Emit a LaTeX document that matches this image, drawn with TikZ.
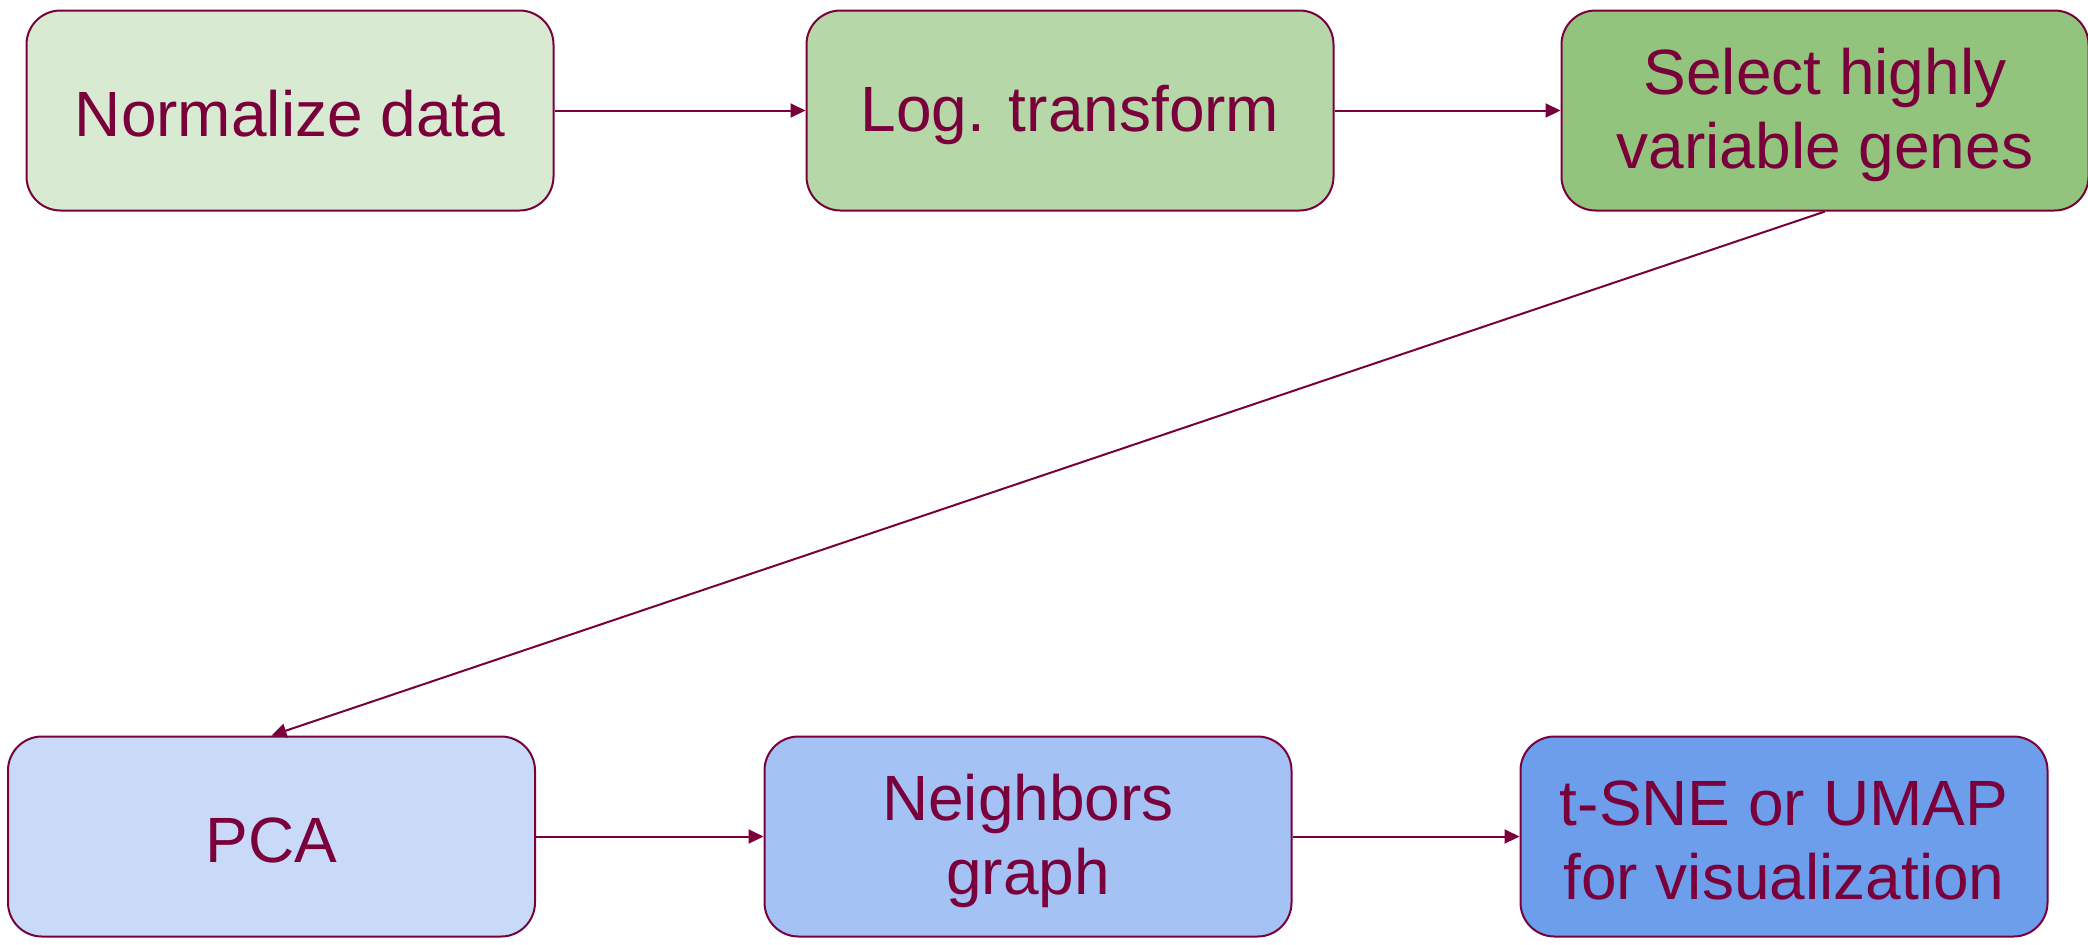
\documentclass[tikz,border=0pt]{standalone}
\usepackage{fontspec}
\setmainfont{Liberation Sans}
\usetikzlibrary{arrows.meta}
\definecolor{txt}{HTML}{7A003C}
\definecolor{fa}{HTML}{D9EAD3}
\definecolor{fb}{HTML}{B6D7A8}
\definecolor{fc}{HTML}{93C47D}
\definecolor{fd}{HTML}{C9DAF8}
\definecolor{fe}{HTML}{A4C2F4}
\definecolor{ff}{HTML}{6D9EEB}
\newcommand{\st}{\rule[-2pt]{0pt}{29.5pt}}
\tikzset{
  stepbox/.style={draw=txt, line width=1pt, rounded corners=17pt, minimum width=263.5pt, minimum height=100pt, align=center, text=txt, font=\fontsize{32}{37}\selectfont, inner sep=0pt},
  conn/.style={draw=txt, line width=1pt, -{Triangle[length=7.5pt,width=7pt]}}
}
\begin{document}
\begin{tikzpicture}[x=0.5pt,y=-0.5pt]
\useasboundingbox (0,0) rectangle (2088,944);
\node[stepbox, fill=fa] (n1) at (290,110.5) {\st Normalize data};
\node[stepbox, fill=fb] (n2) at (1070,110.5) {\st Log. transform};
\node[stepbox, fill=fc] (n3) at (1825,110.5) {\st Select highly\\\st variable genes};
\node[stepbox, fill=fd] (n4) at (271.5,836.5) {\st PCA};
\node[stepbox, fill=fe] (n5) at (1028,836.5) {\st Neighbors\\\st graph};
\node[stepbox, fill=ff] (n6) at (1784,836.5) {\st t-SNE or UMAP\\\st for visualization};
\draw[conn] (n1) -- (n2);
\draw[conn] (n2) -- (n3);
\draw[conn] (n3.south) -- (n4.north);
\draw[conn] (n4) -- (n5);
\draw[conn] (n5) -- (n6);
\end{tikzpicture}
\end{document}
